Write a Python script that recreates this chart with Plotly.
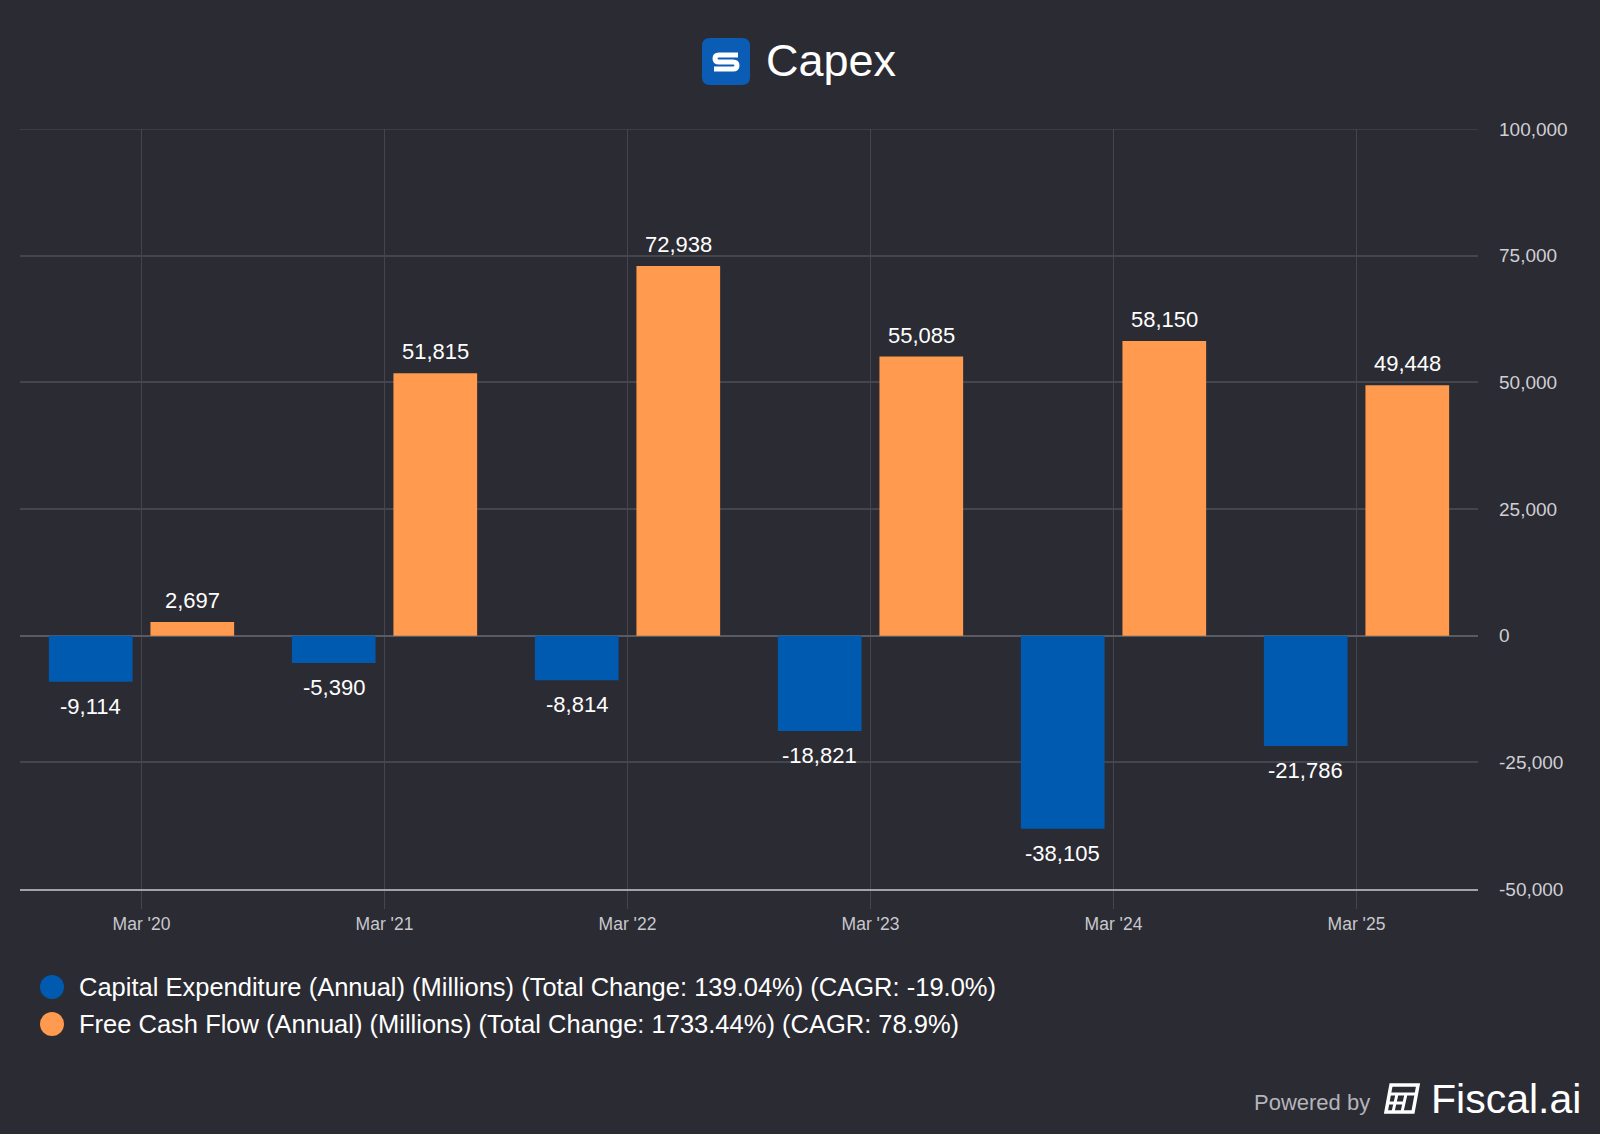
import plotly.graph_objects as go

categories = ["Mar '20", "Mar '21", "Mar '22", "Mar '23", "Mar '24", "Mar '25"]
capex = [-9114, -5390, -8814, -18821, -38105, -21786]
fcf = [2697, 51815, 72938, 55085, 58150, 49448]
capex_name = "Capital Expenditure (Annual) (Millions) (Total Change: 139.04%) (CAGR: -19.0%)"
fcf_name = "Free Cash Flow (Annual) (Millions) (Total Change: 1733.44%) (CAGR: 78.9%)"
y_ticks = [-50000, -25000, 0, 25000, 50000, 75000, 100000]
y_ticktext = [f"{v:,}" for v in y_ticks]

BG = "#2b2b33"
BLUE = "#005bb0"
ORANGE = "#ff9a4f"
GRID = "#45454d"
FONT = "Helvetica Neue, Arial, Liberation Sans, sans-serif"

W, H = 1600, 1134
L, R, T, B = 20, 122, 129, 245
PW, PH = W - L - R, H - T - B
BARGAP, GROUPGAP = 0.164, 0.176
CAT_PX = PW / len(categories)
SLOT_PX = CAT_PX * (1 - BARGAP) / 2


def px(x):
    return (x - L) / PW


def py(y):
    return (H - B - y) / PH


fig = go.Figure()
shapes = []
annotations = []
series = [(capex_name, capex, BLUE, -1), (fcf_name, fcf, ORANGE, 1)]
for name, vals, color, side in series:
    fig.add_trace(go.Bar(
        x=categories, y=vals, name=name, marker_color=color, marker_line_width=0,
        showlegend=False, hoverinfo="skip",
    ))
    for c, v in zip(categories, vals):
        annotations.append(dict(
            x=c, y=v, xref="x", yref="y", text=f"{v:,}", showarrow=False,
            xshift=side * SLOT_PX / 2, yshift=21.5 if v >= 0 else -24.5,
            xanchor="center", yanchor="middle",
            font=dict(color="#ffffff", size=22, family=FONT),
        ))

# top gridline at the range edge
shapes.append(dict(type="line", xref="paper", yref="y", x0=0, x1=1, y0=y_ticks[-1], y1=y_ticks[-1],
                   line=dict(color=GRID, width=1.5), layer="below"))

# Title logo
shapes.append(dict(type="path", xref="paper", yref="paper", layer="above",
                   path=f"M {px(710)},{py(38)} L {px(742)},{py(38)} Q {px(750)},{py(38)} {px(750)},{py(46)} "
                        f"L {px(750)},{py(77)} Q {px(750)},{py(85)} {px(742)},{py(85)} L {px(710)},{py(85)} "
                        f"Q {px(702)},{py(85)} {px(702)},{py(77)} L {px(702)},{py(46)} Q {px(702)},{py(38)} {px(710)},{py(38)} Z",
                   fillcolor="#0a5cb5", line=dict(width=0)))
shapes.append(dict(type="path", xref="paper", yref="paper", layer="above",
                   path=f"M {px(738)},{py(55)} L {px(719)},{py(55)} Q {px(715)},{py(55)} {px(715)},{py(58.5)} "
                        f"Q {px(715)},{py(62)} {px(719)},{py(62)} L {px(733)},{py(62)} Q {px(737)},{py(62)} {px(737)},{py(65.5)} "
                        f"Q {px(737)},{py(69)} {px(733)},{py(69)} L {px(714)},{py(69)}",
                   line=dict(color="#ffffff", width=5)))
annotations.append(dict(xref="paper", yref="paper", x=px(764), y=py(60), xanchor="left", yanchor="middle",
                        text="Capex", showarrow=False, font=dict(size=45, color="#ffffff", family=FONT)))

# Legend
for i, (name, vals, color, side) in enumerate(series):
    cy = 987 + i * 37
    shapes.append(dict(type="circle", xref="paper", yref="paper", layer="above",
                       x0=px(40), x1=px(64), y0=py(cy + 12), y1=py(cy - 12),
                       fillcolor=color, line=dict(width=0)))
    annotations.append(dict(xref="paper", yref="paper", x=px(77), y=py(cy), xanchor="left", yanchor="middle",
                            text=name, showarrow=False, font=dict(size=25.5, color="#ffffff", family=FONT)))

# Footer
annotations.append(dict(xref="paper", yref="paper", x=px(1372), y=py(1102), xanchor="right", yanchor="middle",
                        text="Powered by", showarrow=False, font=dict(size=22, color="#b4b4ba", family=FONT)))
annotations.append(dict(xref="paper", yref="paper", x=px(1429), y=py(1099), xanchor="left", yanchor="middle",
                        text="Fiscal.ai", showarrow=False, font=dict(size=41, color="#ffffff", family=FONT)))
# Fiscal icon (slanted grid)
shapes.append(dict(type="path", xref="paper", yref="paper", layer="above",
                   path=f"M {px(1391)},{py(1085)} L {px(1418)},{py(1085)} L {px(1413)},{py(1112)} L {px(1386)},{py(1112)} Z",
                   line=dict(color="#ffffff", width=3.5), fillcolor="rgba(0,0,0,0)"))
shapes.append(dict(type="path", xref="paper", yref="paper", layer="above",
                   path=f"M {px(1389)},{py(1094)} L {px(1416)},{py(1094)} M {px(1388)},{py(1103)} L {px(1404)},{py(1103)} "
                        f"M {px(1397)},{py(1094)} L {px(1393)},{py(1112)} M {px(1406)},{py(1094)} L {px(1402)},{py(1112)}",
                   line=dict(color="#ffffff", width=3)))

fig.update_layout(
    width=W, height=H,
    margin=dict(l=L, r=R, t=T, b=B, pad=0),
    paper_bgcolor=BG, plot_bgcolor=BG,
    barmode="group", bargap=BARGAP, bargroupgap=GROUPGAP,
    font=dict(family=FONT, color="#cfcfd4"),
    showlegend=False,
    shapes=shapes, annotations=annotations,
    xaxis=dict(
        type="category", range=[-0.5, 5.5], showgrid=True, gridcolor=GRID, gridwidth=1,
        ticks="outside", ticklen=18, tickcolor=GRID, tickwidth=1,
        showline=True, linecolor="#a2a2a8", linewidth=2,
        tickfont=dict(size=17.5, color="#c8c8ce", family=FONT), fixedrange=True,
    ),
    yaxis=dict(
        side="right", range=[-50000, 100000], tickvals=y_ticks, ticktext=y_ticktext,
        showgrid=True, gridcolor=GRID, gridwidth=1.5, zeroline=True, zerolinecolor="#5a5a62", zerolinewidth=2,
        ticks="", ticklabelstandoff=20,
        tickfont=dict(size=19, color="#cfcfd4", family=FONT), fixedrange=True,
    ),
)

fig.write_html("out.html", config={"displayModeBar": False},
               post_script="document.body.style.margin='0';")
